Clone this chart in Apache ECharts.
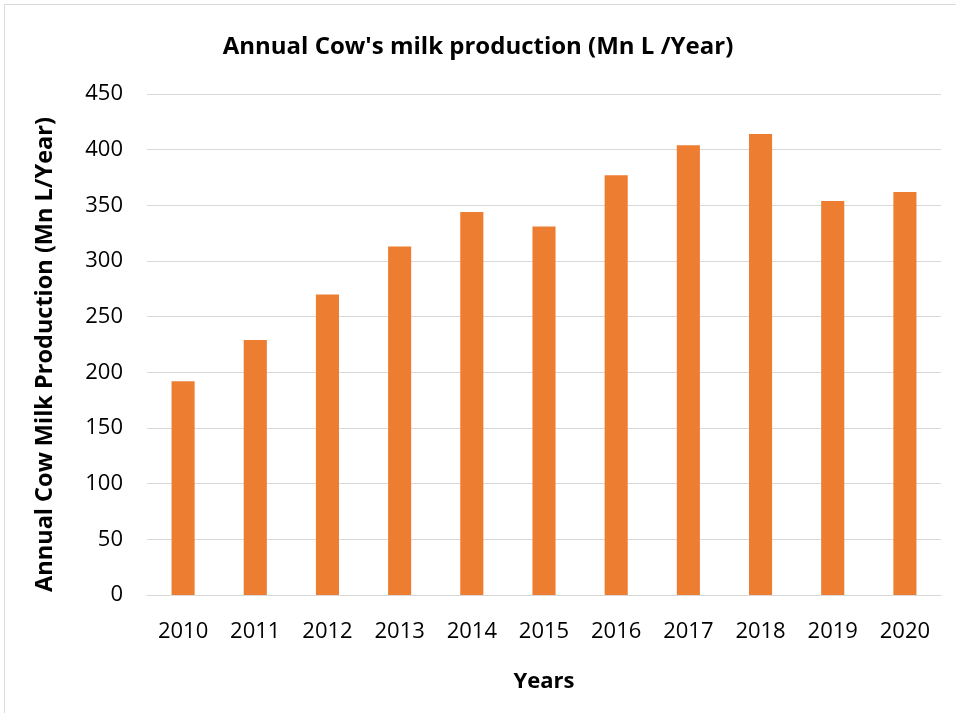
<!DOCTYPE html>
<html>
<head>
<meta charset="utf-8">
<script src="https://cdn.jsdelivr.net/npm/echarts@6/dist/echarts.min.js"></script>
<style>
  html, body { margin: 0; padding: 0; background: #fff; }
  #chart { width: 956px; height: 713px; }
</style>
</head>
<body>
<div id="chart"></div>
<script>
// Annual cow's milk production, million litres per year
const years = ['2010', '2011', '2012', '2013', '2014', '2015', '2016', '2017', '2018', '2019', '2020'];
const production = [192, 229, 270, 313, 344, 331, 377, 404, 414, 354, 362];
const yTicks = { min: 0, max: 450, interval: 50 };

const FONT = '"Open Sans", Lato, sans-serif';

const chart = echarts.init(document.getElementById('chart'), null, { renderer: 'canvas' });

chart.setOption({
  backgroundColor: '#ffffff',
  animation: false,
  title: {
    text: "Annual Cow's milk production (Mn L /Year)",
    left: 'center',
    top: 30,
    textStyle: { fontFamily: FONT, fontWeight: 'bold', fontSize: 24, color: '#000000' }
  },
  graphic: [{
    type: 'rect',
    shape: { x: 4.5, y: 4.5, width: 955, height: 712 },
    style: { fill: 'none', stroke: '#d9d9d9', lineWidth: 1 },
    silent: true
  }],
  grid: { left: 147, right: 15, top: 94, bottom: 118, containLabel: false },
  xAxis: {
    type: 'category',
    data: years,
    name: 'Years',
    nameLocation: 'middle',
    nameGap: 76,
    nameTextStyle: { fontFamily: FONT, fontWeight: 'bold', fontSize: 22, color: '#000000' },
    axisLine: { show: true, lineStyle: { color: '#d9d9d9', width: 1 } },
    axisTick: { show: false },
    axisLabel: { fontFamily: FONT, fontSize: 22, color: '#000000', margin: 26 }
  },
  yAxis: {
    type: 'value',
    min: yTicks.min,
    max: yTicks.max,
    interval: yTicks.interval,
    name: 'Annual Cow Milk Production (Mn L/Year)',
    nameLocation: 'middle',
    nameGap: 90,
    nameTextStyle: {
      fontFamily: FONT, fontWeight: 'bold', fontSize: 23.5, color: '#000000',
      padding: [0, 20, 0, 0]
    },
    axisLine: { show: false },
    axisTick: { show: false },
    axisLabel: { fontFamily: FONT, fontSize: 22, color: '#000000', margin: 24 },
    splitLine: { show: true, lineStyle: { color: '#d9d9d9', width: 1 } }
  },
  series: [{
    type: 'bar',
    data: production,
    barWidth: '32%',
    itemStyle: { color: '#ED7D31' }
  }]
});
</script>
</body>
</html>
